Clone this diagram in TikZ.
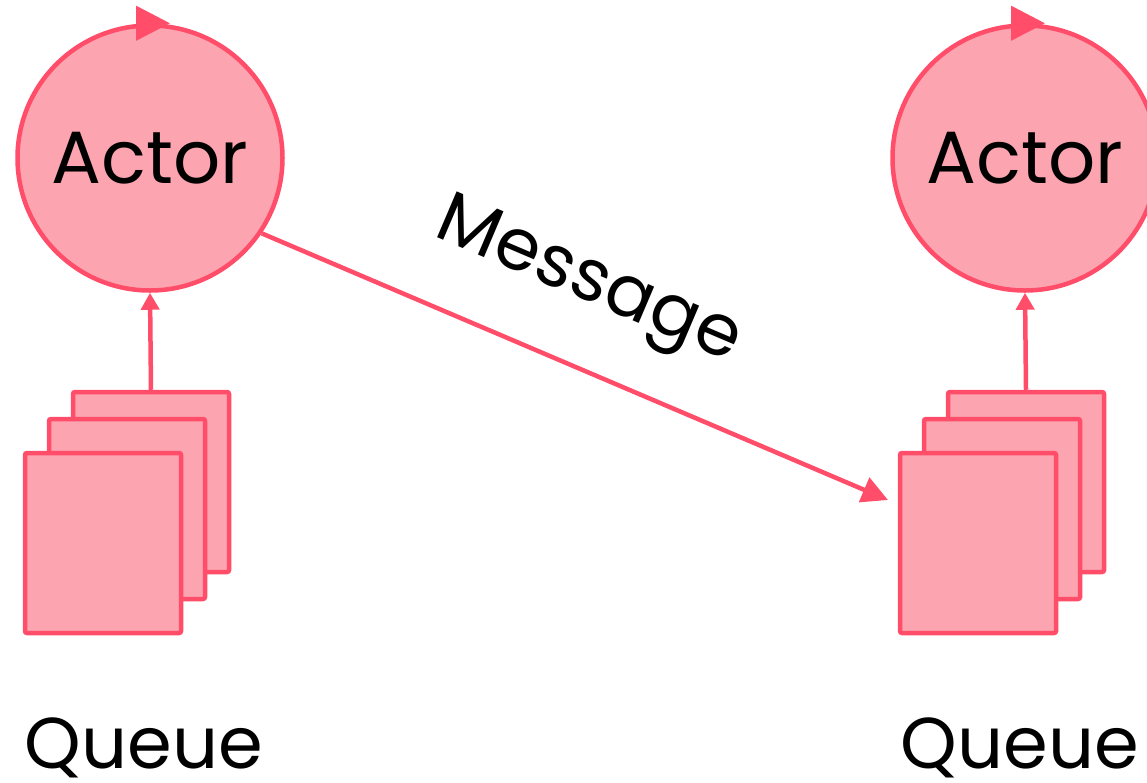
\documentclass[tikz,border=0pt]{standalone}
\usepackage{fontspec}
\setmainfont{Poppins}
\usetikzlibrary{arrows.meta,calc}
\definecolor{actorred}{RGB}{255,77,106}
\definecolor{actorpink}{RGB}{252,164,176}

\begin{document}
\begin{tikzpicture}[x=1pt,y=-1pt,
	actor/.style={circle,draw=actorred,fill=actorpink,line width=4.5pt,minimum size=265pt,inner sep=0pt,font=\fontsize{74}{80}\selectfont},
	mailbox/.style={rectangle,draw=actorred,fill=actorpink,line width=4.5pt,rounded corners=2pt,minimum width=156pt,minimum height=180pt,inner sep=0pt},
	qtext/.style={font=\fontsize{72}{80}\selectfont},
	link/.style={draw=actorred,line width=4.5pt}]
	%%%%% START %%%%%
	\useasboundingbox (0,0) rectangle (1147,782);
	
	% left actor
	\node[actor] (actA) at (150,158) {Actor};
	\node[mailbox] (qA3) at (151,482) {};
	\node[mailbox] (qA2) at (127,509) {};
	\node[mailbox] (qA1) at (103,543) {};
	\node[qtext,anchor=base] (qtA) at (144,768) {Queue};
	\draw[link,-{Triangle[length=17pt,width=18pt]}] (qA3.north) -- (actA.south);
	\draw[link,-{Triangle[length=34pt,width=34pt]}] ([xshift=-5pt]actA.north) -- ([xshift=20pt]actA.north);
	
	% right actor
	\node[actor] (actB) at (1025,158) {Actor};
	\node[mailbox] (qB3) at (1026,482) {};
	\node[mailbox] (qB2) at (1002,509) {};
	\node[mailbox] (qB1) at (978,543) {};
	\node[qtext,anchor=base] (qtB) at (1020,768) {Queue};
	\draw[link,-{Triangle[length=17pt,width=18pt]}] (qB3.north) -- (actB.south);
	\draw[link,-{Triangle[length=34pt,width=34pt]}] ([xshift=-5pt]actB.north) -- ([xshift=20pt]actB.north);
	
	% message
	\coordinate (msgEnd) at (888,500);
	\draw[link,-{Triangle[length=26pt,width=26pt]}] (actA.-34) -- node[qtext,sloped,above=40pt,pos=0.47] (msg) {Message} (msgEnd);
	%%%%% END %%%%%
\end{tikzpicture}
\end{document}
